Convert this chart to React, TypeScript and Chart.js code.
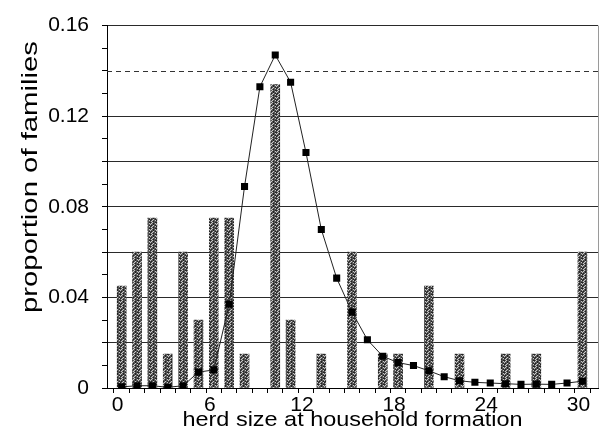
import { useEffect, useRef } from "react";
import { Chart, registerables } from "chart.js";

Chart.register(...registerables);

// ---- data ----
const barHerdSizes = [0, 1, 2, 3, 4, 5, 6, 7, 8, 10, 11, 13, 15, 17, 18, 20, 22, 25, 27, 30];
const barProportions = [
  0.045, 0.06, 0.075, 0.015, 0.06, 0.03, 0.075, 0.075, 0.015, 0.134, 0.03, 0.015, 0.06, 0.015,
  0.015, 0.045, 0.015, 0.015, 0.015, 0.06,
];
const lineHerdSizes = [
  0, 1, 2, 3, 4, 5, 6, 7, 8, 9, 10, 11, 12, 13, 14, 15, 16, 17, 18, 19, 20, 21, 22, 23, 24, 25, 26,
  27, 28, 29, 30,
];
const lineProportions = [
  0.0005, 0.001, 0.001, 0.0003, 0.001, 0.007, 0.008, 0.037, 0.089, 0.133, 0.147, 0.135, 0.104,
  0.07, 0.0485, 0.0335, 0.0213, 0.014, 0.0112, 0.0099, 0.0076, 0.005, 0.0032, 0.0025, 0.0022,
  0.0019, 0.0016, 0.0017, 0.0016, 0.0022, 0.003,
];
const xTickValues = [0, 6, 12, 18, 24, 30];
const xTickLabels = ["0", "6", "12", "18", "24", "30"];
const yTickValues = [0, 0.04, 0.08, 0.12, 0.16];
const yTickLabels = ["0", "0.04", "0.08", "0.12", "0.16"];
const yGridValues = [0.02, 0.04, 0.06, 0.08, 0.1, 0.12, 0.16];
const yDashedValue = 0.14;
const xTitle = "herd size at household formation";
const yTitle = "proportion of families";

const FONT = '"Liberation Sans", Arial, Helvetica, sans-serif';

function makePattern(): CanvasPattern | string {
  const rows = ["d.l..d", ".l.d.l", "l..d..", ".d.l.d", "d.l..l", ".l.d.."];
  const c = document.createElement("canvas");
  c.width = 6;
  c.height = 6;
  const g = c.getContext("2d");
  if (!g) return "#606060";
  g.fillStyle = "#555555";
  g.fillRect(0, 0, 6, 6);
  rows.forEach((r, y) => {
    for (let x = 0; x < r.length; x++) {
      if (r[x] === "d") {
        g.fillStyle = "#222222";
        g.fillRect(x, y, 1, 1);
      } else if (r[x] === "l") {
        g.fillStyle = "#c8c8c8";
        g.fillRect(x, y, 1, 1);
      }
    }
  });
  return g.createPattern(c, "repeat") || "#606060";
}

const near = (a: number, b: number) => Math.abs(a - b) < 1e-7;

const decorPlugin = {
  id: "decor",
  beforeDatasetsDraw(chart: any) {
    const { ctx, chartArea } = chart;
    const y = Math.round(chart.scales.y.getPixelForValue(yDashedValue)) + 0.5;
    ctx.save();
    ctx.strokeStyle = "#333";
    ctx.lineWidth = 1;
    ctx.setLineDash([5, 4]);
    ctx.beginPath();
    ctx.moveTo(chartArea.left, y);
    ctx.lineTo(chartArea.right, y);
    ctx.stroke();
    ctx.setLineDash([]);
    ctx.strokeStyle = "#9a9a9a";
    ctx.beginPath();
    ctx.moveTo(chartArea.right + 0.5, chartArea.top);
    ctx.lineTo(chartArea.right + 0.5, chartArea.bottom);
    ctx.stroke();
    ctx.restore();
  },
  afterDraw(chart: any) {
    const { ctx, chartArea } = chart;
    ctx.save();
    ctx.fillStyle = "#000";
    ctx.font = `21px ${FONT}`;
    ctx.textAlign = "center";
    ctx.textBaseline = "alphabetic";
    let w = ctx.measureText(xTitle).width;
    ctx.translate((chartArea.left + chartArea.right) / 2, 426);
    ctx.scale(340 / w, 1);
    ctx.fillText(xTitle, 0, 0);
    ctx.restore();

    ctx.save();
    ctx.fillStyle = "#000";
    ctx.font = `22px ${FONT}`;
    ctx.textAlign = "center";
    ctx.textBaseline = "alphabetic";
    w = ctx.measureText(yTitle).width;
    ctx.translate(37, 177);
    ctx.rotate(-Math.PI / 2);
    ctx.scale(272 / w, 1);
    ctx.fillText(yTitle, 0, 0);
    ctx.restore();
  },
};

export default function App() {
  const ref = useRef<HTMLCanvasElement | null>(null);

  useEffect(() => {
    if (!ref.current) return;
    const pattern = makePattern();
    const chart = new Chart(ref.current, {
      type: "bar",
      data: {
        datasets: [
          {
            type: "line",
            data: lineHerdSizes.map((x, i) => ({ x, y: lineProportions[i] })),
            borderColor: "#222",
            borderWidth: 1,
            backgroundColor: "#000",
            pointStyle: "rect",
            pointRadius: 5,
            pointBorderWidth: 0,
            pointBackgroundColor: "#000",
            tension: 0,
            order: 0,
          } as any,
          {
            type: "bar",
            data: barHerdSizes.map((x, i) => ({ x, y: barProportions[i] })),
            backgroundColor: pattern as any,
            borderWidth: 0,
            barThickness: 9,
            order: 1,
          } as any,
        ],
      },
      options: {
        responsive: false,
        animation: false,
        devicePixelRatio: 1,
        layout: { padding: { top: 22, right: 5, left: 0, bottom: 0 } },
        plugins: { legend: { display: false }, tooltip: { enabled: false } },
        scales: {
          x: {
            type: "linear",
            min: -0.44,
            max: 30.5,
            afterFit: (s: any) => {
              s.height = 59;
            },
            border: { display: true, color: "#000", width: 1 },
            grid: {
              drawOnChartArea: false,
              drawTicks: true,
              tickLength: 5,
              tickColor: "#000",
            },
            ticks: {
              stepSize: 1,
              includeBounds: false,
              autoSkip: false,
              maxRotation: 0,
              minRotation: 0,
              padding: 0,
              labelOffset: -4,
              color: "#000",
              font: { family: FONT, size: 21 },
              callback: (v: any) => {
                const i = xTickValues.findIndex((t) => near(t, Number(v)));
                return i >= 0 ? xTickLabels[i] : "";
              },
            },
          },
          y: {
            type: "linear",
            min: 0,
            max: 0.16,
            afterFit: (s: any) => {
              s.width = 107;
            },
            border: { display: true, color: "#000", width: 1 },
            grid: {
              drawTicks: true,
              tickLength: 5,
              tickColor: "#000",
              lineWidth: 1,
              color: (c: any) =>
                yGridValues.some((g) => near(g, c.tick?.value ?? -1)) ? "#2a2a2a" : "rgba(0,0,0,0)",
            },
            ticks: {
              stepSize: 0.01,
              includeBounds: false,
              autoSkip: false,
              padding: 13,
              color: "#000",
              font: { family: FONT, size: 21 },
              callback: (v: any) => {
                const i = yTickValues.findIndex((t) => near(t, Number(v)));
                return i >= 0 ? yTickLabels[i] : "";
              },
            },
          },
        },
      },
      plugins: [decorPlugin],
    });
    return () => chart.destroy();
  }, []);

  return (
    <div style={{ position: "absolute", left: 0, top: 0, width: 603, height: 447 }}>
      <canvas ref={ref} width={603} height={447} style={{ display: "block" }} />
    </div>
  );
}
